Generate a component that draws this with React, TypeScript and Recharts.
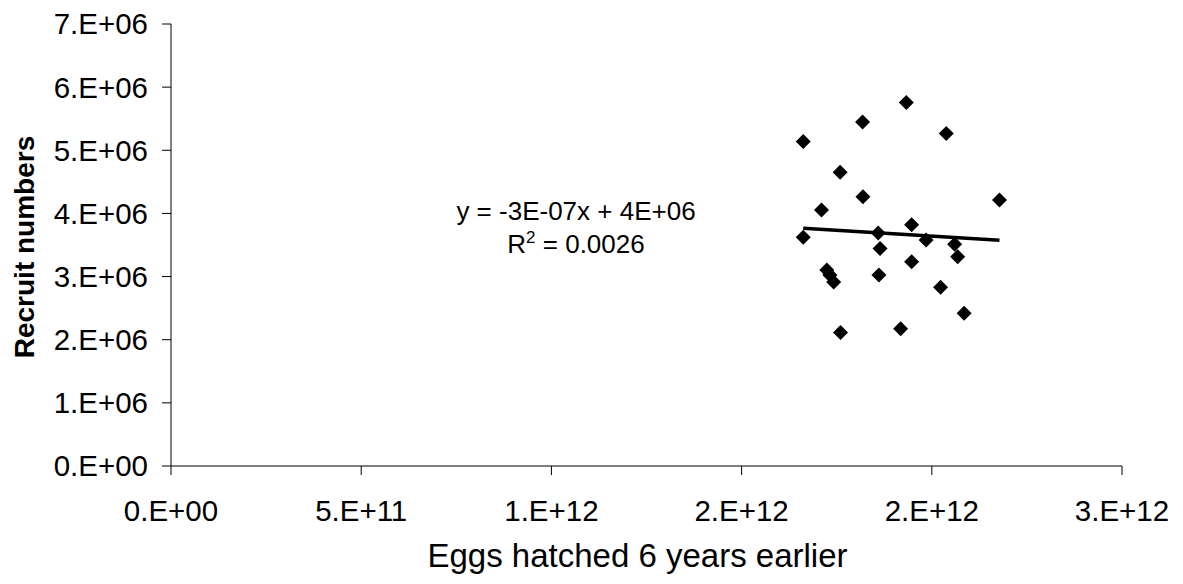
import { ScatterChart, Scatter, XAxis, YAxis, Label } from 'recharts';

// Eggs hatched 6 years earlier (x) vs recruit numbers (y)
const eggs = [
  1.933e12, 1.818e12, 1.662e12, 2.038e12, 1.759e12, 1.819e12, 2.178e12, 1.71e12,
  1.947e12, 1.859e12, 1.662e12, 1.985e12, 2.06e12, 1.864e12, 2.068e12, 1.947e12,
  1.724e12, 1.732e12, 1.742e12, 1.861e12, 2.023e12, 2.085e12, 1.76e12, 1.918e12,
];
const recruits = [
  5.755e6, 5.448e6, 5.138e6, 5.265e6, 4.653e6, 4.263e6, 4.211e6, 4.053e6,
  3.821e6, 3.689e6, 3.621e6, 3.579e6, 3.511e6, 3.444e6, 3.315e6, 3.236e6,
  3.105e6, 3.026e6, 2.915e6, 3.026e6, 2.831e6, 2.421e6, 2.114e6, 2.173e6,
];

// linear trend line ends (y = -3E-07x + 4E+06)
const trendX = [1.662e12, 2.178e12];
const trendY = [3.764e6, 3.574e6];

const xTicks = [0, 5e11, 1e12, 1.5e12, 2e12, 2.5e12];
const xTickLabels = ['0.E+00', '5.E+11', '1.E+12', '2.E+12', '2.E+12', '3.E+12'];
const yTicks = [0, 1e6, 2e6, 3e6, 4e6, 5e6, 6e6, 7e6];
const yTickLabels = ['0.E+00', '1.E+06', '2.E+06', '3.E+06', '4.E+06', '5.E+06', '6.E+06', '7.E+06'];

const points = eggs.map((x, i) => ({ x, y: recruits[i] }));
const trend = trendX.map((x, i) => ({ x, y: trendY[i] }));

const FONT = '"Liberation Sans", Arial, sans-serif';

// Excel-style diamond marker
function Diamond(props: any) {
  const { cx, cy } = props;
  const r = 7.5;
  return (
    <polygon
      points={`${cx},${cy - r} ${cx + r},${cy} ${cx},${cy + r} ${cx - r},${cy}`}
      fill="#000"
    />
  );
}

const tickStyle = { fontSize: 29.5, fill: '#000', fontFamily: FONT };

export default function App() {
  return (
    <div style={{ position: 'absolute', left: 0, top: 0, width: 1183, height: 584, background: '#fff' }}>
      <ScatterChart
        width={1183}
        height={584}
        margin={{ top: 24, right: 61, bottom: 0, left: 0 }}
      >
        <XAxis
          type="number"
          dataKey="x"
          domain={[0, 2.5e12]}
          ticks={xTicks}
          tickFormatter={(v: number) => xTickLabels[xTicks.indexOf(v)]}
          height={118}
          tickSize={9}
          tickMargin={25}
          tick={tickStyle}
          stroke="#000"
          allowDataOverflow
        >
          <Label
            content={({ viewBox }: any) => (
              <text
                x={viewBox.x + viewBox.width / 2 - 9}
                y={567}
                textAnchor="middle"
                fontSize={33}
                fontFamily={FONT}
                fill="#000"
              >
                Eggs hatched 6 years earlier
              </text>
            )}
          />
        </XAxis>
        <YAxis
          type="number"
          dataKey="y"
          domain={[0, 7e6]}
          ticks={yTicks}
          tickFormatter={(v: number) => yTickLabels[yTicks.indexOf(v)]}
          width={171}
          tickSize={9}
          tickMargin={14}
          tick={tickStyle}
          stroke="#000"
          allowDataOverflow
        >
          <Label
            content={({ viewBox }: any) => {
              const cx = 24;
              const cy = viewBox.y + viewBox.height / 2 + 2;
              return (
                <text
                  x={cx}
                  y={cy}
                  transform={`rotate(-90 ${cx} ${cy})`}
                  textAnchor="middle"
                  dominantBaseline="central"
                  fontSize={28}
                  fontWeight="bold"
                  fontFamily={FONT}
                  fill="#000"
                >
                  Recruit numbers
                </text>
              );
            }}
          />
        </YAxis>
        <Scatter data={points} shape={<Diamond />} isAnimationActive={false} />
        <Scatter
          data={trend}
          line={{ stroke: '#000', strokeWidth: 3.5 }}
          shape={() => null}
          isAnimationActive={false}
        />
      </ScatterChart>
      <div
        style={{
          position: 'absolute',
          left: 376,
          top: 195,
          width: 400,
          textAlign: 'center',
          fontFamily: FONT,
          fontSize: 26,
          lineHeight: '33px',
          color: '#000',
        }}
      >
        <div>y = -3E-07x + 4E+06</div>
        <div>
          R<sup style={{ fontSize: 17, lineHeight: 0, verticalAlign: '0.6em' }}>2</sup> = 0.0026
        </div>
      </div>
    </div>
  );
}
